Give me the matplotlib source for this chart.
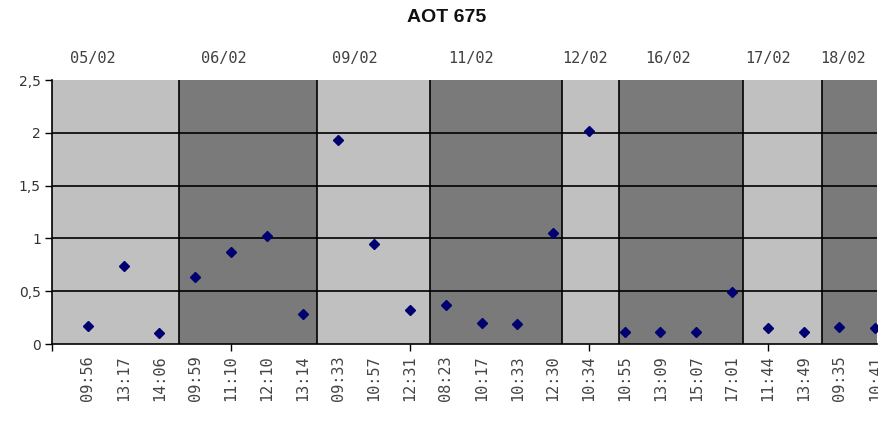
import numpy as np
import matplotlib
matplotlib.use("Agg")
import matplotlib.pyplot as plt
import matplotlib.transforms as mtransforms

# measurement times (one per point) and AOT 675 values
times = ["09:56", "13:17", "14:06",
         "09:59", "11:10", "12:10", "13:14",
         "09:33", "10:57", "12:31",
         "08:23", "10:17", "10:33", "12:30",
         "10:34",
         "10:55", "13:09", "15:07", "17:01",
         "11:44", "13:49",
         "09:35", "10:41"]
aot = [0.17, 0.74, 0.10,
       0.63, 0.87, 1.02, 0.28,
       1.93, 0.95, 0.32,
       0.37, 0.20, 0.19, 1.05,
       2.02,
       0.11, 0.11, 0.11, 0.49,
       0.15, 0.11,
       0.16, 0.15]
days = ["05/02", "06/02", "09/02", "11/02", "12/02", "16/02", "17/02", "18/02"]

# day separators as drawn on the chart, and where the day labels sit
day_edges = [0, 3.55, 7.4, 10.56, 14.25, 15.84, 19.3, 21.5, 23.05]
day_label_x = [1.15, 4.8, 8.46, 11.7, 14.9, 17.2, 20.0, 22.1]

light = "#c0c0c0"
dark = "#7a7a7a"

fig = plt.figure(figsize=(8.79, 4.25), dpi=100)
ax = fig.add_axes([52 / 879, 81 / 425, 825 / 879, 264 / 425])

x = np.arange(1, len(aot) + 1)

for i in range(len(days)):
    ax.axvspan(day_edges[i], day_edges[i + 1], color=light if i % 2 == 0 else dark,
               lw=0, zorder=0)
for e in day_edges[1:-1]:
    ax.axvline(e, color="black", lw=1.2, zorder=1)
for yv in [0.5, 1.0, 1.5, 2.0]:
    ax.axhline(yv, color="black", lw=1.2, zorder=1)

ax.plot(x, aot, linestyle="none", marker="D", markersize=5.5,
        color="#000070", zorder=3, clip_on=False)

ax.set_xlim(day_edges[0], day_edges[-1])
ax.set_ylim(0, 2.5)

ax.set_yticks([0, 0.5, 1, 1.5, 2, 2.5])
ax.set_yticklabels(["0", "0,5", "1", "1,5", "2", "2,5"])
ax.tick_params(axis="y", direction="out", length=5, width=1, pad=3,
               labelsize=10, labelcolor="#333333")

# time labels under every point, small tick marks every 5 points
ax.xaxis.remove_overlapping_locs = False
ax.set_xticks(x)
ax.set_xticklabels(times, rotation=90, family="DejaVu Sans Mono",
                   fontsize=11, color="#444444", va="top")
ax.tick_params(axis="x", which="major", length=0, pad=8)
ax.set_xticks([0, 5, 10, 15, 20], minor=True)
ax.tick_params(axis="x", which="minor", direction="out", length=5, width=1)

for s in ["top", "right"]:
    ax.spines[s].set_visible(False)
ax.spines["left"].set_linewidth(1.2)
ax.spines["bottom"].set_linewidth(1.2)

trans = mtransforms.blended_transform_factory(ax.transData, ax.transAxes)
for lx, d in zip(day_label_x, days):
    ax.text(lx, 1.08, d, transform=trans, ha="center", va="center",
            family="DejaVu Sans Mono", fontsize=11, color="#404040")

fig.text(447 / 879, 1 - 18 / 425, "AOT 675", ha="center", va="center",
         family=["Liberation Sans Narrow", "Liberation Sans"], fontweight="bold",
         fontsize=14, color="#111111")

fig.savefig("out.png", dpi=100)
